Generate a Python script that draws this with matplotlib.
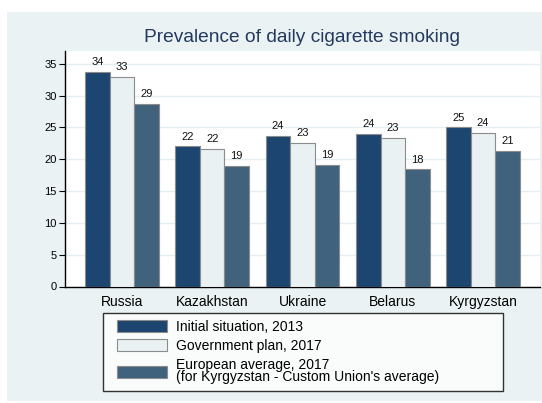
import matplotlib.pyplot as plt
import matplotlib.patches as mpatches
from matplotlib.patches import Rectangle
from matplotlib.legend_handler import HandlerPatch
import numpy as np

plt.rcParams['font.family'] = ['Liberation Sans', 'DejaVu Sans']

# Data
countries = ['Russia', 'Kazakhstan', 'Ukraine', 'Belarus', 'Kyrgyzstan']
initial_2013 = [33.7, 22.0, 23.6, 24.0, 25.0]
gov_plan_2017 = [32.9, 21.6, 22.6, 23.4, 24.1]
euro_avg_2017 = [28.7, 18.9, 19.1, 18.4, 21.3]

series_names = ['Initial situation, 2013',
                'Government plan, 2017',
                "European average, 2017\n(for Kyrgyzstan - Custom Union's average)"]
colors = ['#1c4570', '#e9f1f3', '#40627c']
bg = '#eaf2f3'
edge = '#8c8c8c'

fig = plt.figure(figsize=(5.42, 4.03), dpi=100)
fig.patch.set_facecolor('white')
# light panel behind everything
fig.patches.append(Rectangle((7 / 542, 2 / 403), 1 - 7 / 542, 1 - 14 / 403,
                             transform=fig.transFigure, facecolor=bg,
                             edgecolor='none', zorder=-10))

ax = fig.add_axes([65 / 542, 1 - 286.5 / 403, 475 / 542, (286.5 - 51) / 403])
ax.set_facecolor('white')

x = np.arange(len(countries))
w = 0.272
handles = []
for i, (vals, col) in enumerate(zip([initial_2013, gov_plan_2017, euro_avg_2017], colors)):
    bars = ax.bar(x + (i - 1) * w, vals, width=w, color=col,
                  edgecolor=edge, linewidth=0.8, zorder=3)
    for b, v in zip(bars, vals):
        ax.annotate(f'{v:.0f}', (b.get_x() + b.get_width() / 2, v),
                    xytext=(0, 3.5), textcoords='offset points',
                    ha='center', va='bottom', fontsize=8, color='#111111')
    handles.append(mpatches.Patch(facecolor=col, edgecolor=edge, linewidth=0.8))

ax.set_xlim(-0.63, 4.63)
ax.set_ylim(0, 37)
ax.set_yticks(range(0, 36, 5))
ax.yaxis.grid(True, color='#e4eef1', linewidth=1, zorder=0)
ax.set_axisbelow(True)
ax.set_xticks(x)
ax.set_xticklabels(countries, fontsize=10)
ax.tick_params(axis='x', length=0, pad=6)
ax.tick_params(axis='y', labelsize=8, length=4, width=0.8, direction='out', pad=2)
for s in ['top', 'right']:
    ax.spines[s].set_visible(False)
for s in ['left', 'bottom']:
    ax.spines[s].set_linewidth(1)

fig.text(302.5 / 542, 1 - 37 / 403, 'Prevalence of daily cigarette smoking',
         ha='center', va='center', fontsize=13.8, color='#23395e')


def inset_patch(legend, orig_handle, xdescent, ydescent, width, height, fontsize):
    gap = 5.9
    return Rectangle((-xdescent + gap, -ydescent), width - gap, height)


leg = fig.legend(handles, series_names, loc='upper left',
                 bbox_to_anchor=(102.7 / 542, 0, 400 / 542, 1 - 313.3 / 403),
                 mode='expand', fontsize=10, frameon=True, fancybox=False,
                 edgecolor='black', handlelength=4.19, handleheight=0.95,
                 labelspacing=0.36, borderpad=0.46, handletextpad=0.6,
                 borderaxespad=0,
                 handler_map={mpatches.Patch: HandlerPatch(patch_func=inset_patch)})
leg.get_frame().set_linewidth(1)
leg.get_frame().set_facecolor('white')
leg.get_texts()[2].set_linespacing(0.88)

fig.savefig('out.png', dpi=100)
